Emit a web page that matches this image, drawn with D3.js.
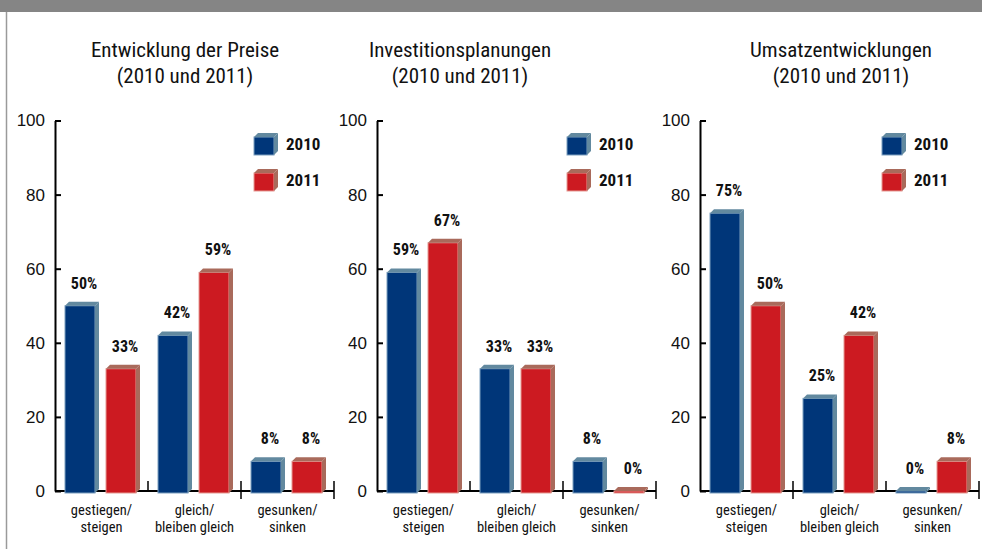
<!DOCTYPE html>
<html>
<head>
<meta charset="utf-8">
<script src="https://cdn.jsdelivr.net/npm/d3@7"></script>
<style>
  body { margin: 0; background: #fff; }
  svg { display: block; font-family: "Liberation Sans Narrow", "Roboto Condensed", "DejaVu Sans Condensed", sans-serif; }
</style>
</head>
<body>
<svg id="chart" width="982" height="549"></svg>
<script>
// data
var categories = ['gestiegen/|steigen', 'gleich/|bleiben gleich', 'gesunken/|sinken'];
var years = ['2010', '2011'];
var yTicks = [0, 20, 40, 60, 80, 100];

var titlePreise = ['Entwicklung der Preise', '(2010 und 2011)'];
var titleInvest = ['Investitionsplanungen', '(2010 und 2011)'];
var titleUmsatz = ['Umsatzentwicklungen', '(2010 und 2011)'];

var preise2010 = [50, 42, 8];
var preise2011 = [33, 59, 8];
var invest2010 = [59, 33, 8];
var invest2011 = [67, 33, 0];
var umsatz2010 = [75, 25, 0];
var umsatz2011 = [50, 42, 8];

// layout of the three panels
var panels = [
  { title: titlePreise, values: [preise2010, preise2011], axisX: 55, titleX: 185, legendX: 254, sepDown: [false, true, true] },
  { title: titleInvest, values: [invest2010, invest2011], axisX: 377, titleX: 460, legendX: 567, sepDown: [false, true, true] },
  { title: titleUmsatz, values: [umsatz2010, umsatz2011], axisX: 700, titleX: 841, legendX: 882, sepDown: [true, false, true] }
];

var colors = {
  '2010': { front: '#003679', side: '#62899f', stroke: '#7c9fbf' },
  '2011': { front: '#cc1a21', side: '#a96a5b', stroke: '#e59a93' }
};

var depth = 4;
var bandW = 93;

var svg = d3.select('#chart');

// header strip and left border
svg.append('rect').attr('x', 0).attr('y', 0).attr('width', 982).attr('height', 12).attr('fill', '#858585');
svg.append('line').attr('x1', 6.5).attr('x2', 6.5).attr('y1', 12).attr('y2', 549)
  .attr('stroke', '#9a9a9a').attr('stroke-width', 1.5);

var y = d3.scaleLinear().domain([0, 100]).range([491, 120.5]);

function drawBox(g, x, top, w, base, c) {
  //front
  g.append('rect')
    .attr('x', x).attr('y', top)
    .attr('width', w).attr('height', Math.max(0, base - top))
    .attr('fill', c.front).attr('stroke', c.stroke).attr('stroke-width', 1);
  //top face
  g.append('path')
    .attr('d', 'M' + x + ',' + top + 'L' + (x + depth) + ',' + (top - depth) +
      'L' + (x + w + depth) + ',' + (top - depth) + 'L' + (x + w) + ',' + top + 'Z')
    .attr('fill', c.side);
  //side face
  g.append('path')
    .attr('d', 'M' + (x + w) + ',' + top + 'L' + (x + w + depth) + ',' + (top - depth) +
      'L' + (x + w + depth) + ',' + (base - depth) + 'L' + (x + w) + ',' + base + 'Z')
    .attr('fill', c.side);
}

panels.forEach(function(p) {
  var g = svg.append('g');

  var x = d3.scaleBand().domain(categories)
    .range([p.axisX, p.axisX + bandW * categories.length]).padding(0);
  var xSub = d3.scaleBand().domain(years)
    .range([10, 85]).paddingInner(7 / 41).paddingOuter(0);

  //title
  var title = g.append('text')
    .attr('x', p.titleX).attr('y', 57)
    .attr('text-anchor', 'middle')
    .style('font-size', '21px').attr('fill', '#111');
  p.title.forEach(function(t, i) {
    title.append('tspan').attr('x', p.titleX).attr('dy', i ? 26 : 0).text(t);
  });

  //y axis
  var yAxis = d3.axisLeft(y).tickValues(yTicks).tickSizeInner(-6).tickSizeOuter(0).tickPadding(10);
  var ya = g.append('g').attr('transform', 'translate(' + p.axisX + ',0)').call(yAxis);
  ya.select('.domain').attr('stroke', '#000').attr('stroke-width', 2);
  ya.selectAll('.tick line').attr('stroke', '#000').attr('stroke-width', 2);
  ya.selectAll('.tick text').style('font-size', '17px').attr('fill', '#111').attr('font-family', null);

  //x axis line + separators
  var x0 = x.range()[0], x1 = x.range()[1];
  g.append('line').attr('x1', x0).attr('x2', x1).attr('y1', y(0)).attr('y2', y(0))
    .attr('stroke', '#000').attr('stroke-width', 2);
  var seps = categories.slice(1).map(function(c) { return x(c); }).concat([x1]);
  seps.forEach(function(sx, i) {
    g.append('line')
      .attr('x1', sx).attr('x2', sx)
      .attr('y1', y(0) - 10).attr('y2', y(0) + (p.sepDown[i] ? 8 : 0))
      .attr('stroke', '#000').attr('stroke-width', 1.5);
  });

  //category labels, one text per line
  categories.forEach(function(c) {
    c.split('|').forEach(function(line, i) {
      g.append('text')
        .attr('x', x(c) + bandW / 2).attr('y', 515 + i * 16.5)
        .attr('text-anchor', 'middle').style('font-size', '14.5px').attr('fill', '#111')
        .text(line);
    });
  });

  //bars
  years.forEach(function(yr, s) {
    p.values[s].forEach(function(v, i) {
      var bx = x(categories[i]) + xSub(yr);
      var w = xSub.bandwidth() - depth;
      var top = y(v);
      drawBox(g, bx, top, w, y(0) + 2, colors[yr]);
      g.append('text')
        .attr('x', bx + 19).attr('y', top - 17)
        .attr('text-anchor', 'middle')
        .style('font-size', '16px').style('font-weight', 'bold').attr('fill', '#111')
        .text(v + '%');
    });
  });

  //legend
  years.forEach(function(yr, s) {
    var ly = 137 + s * 36;
    drawBox(g, p.legendX, ly, 20, ly + 18, colors[yr]);
    g.append('text')
      .attr('x', p.legendX + 32).attr('y', ly + 13)
      .style('font-size', '17px').style('font-weight', 'bold').attr('fill', '#111')
      .text(yr);
  });
});
</script>
</body>
</html>
